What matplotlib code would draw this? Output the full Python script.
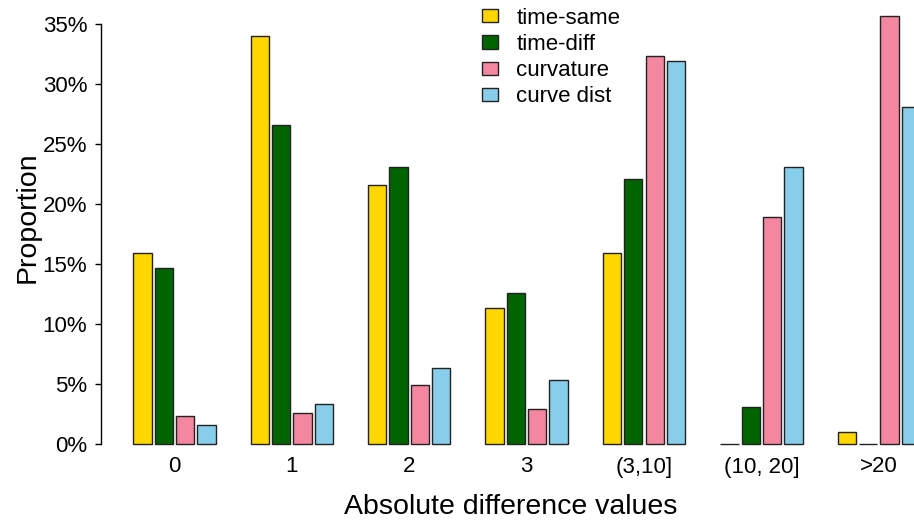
import matplotlib
matplotlib.use('Agg')
import matplotlib.pyplot as plt
import numpy as np

plt.rcParams['font.family'] = ['Liberation Sans', 'DejaVu Sans']

categories = ['0', '1', '2', '3', '(3,10]', '(10, 20]', '>20']
series = ['time-same', 'time-diff', 'curvature', 'curve dist']
time_same = [15.9, 34.0, 21.6, 11.3, 15.9, 0.0, 0.97]
time_diff = [14.7, 26.6, 23.1, 12.6, 22.1, 3.1, 0.0]
curvature = [2.3, 2.6, 4.9, 2.9, 32.3, 18.9, 35.7]
curve_dist = [1.6, 3.3, 6.3, 5.3, 31.9, 23.1, 28.1]
values = [time_same, time_diff, curvature, curve_dist]
colors = ['#FFD700', '#006400', '#F4879F', '#87CEEB']

W, H = 914, 524
fig = plt.figure(figsize=(W / 100, H / 100), dpi=100)
ax = fig.add_axes([101 / W, 1 - 444 / H, 1 - 101 / W, (444 - 24) / H])

bar_step = 1.165
group_step = 6.415
x0 = np.arange(len(categories)) * group_step
for i, (name, vals) in enumerate(zip(series, values)):
    ax.bar(x0 + i * bar_step, vals, width=1.0, align='edge', color=colors[i],
           edgecolor='#222222', linewidth=1.0, label=name, clip_on=False)

ax.set_xlim((101 - 133.3) / 18.3, (914 - 133.3) / 18.3)
ax.set_ylim(0, 35)
ax.set_yticks(np.arange(0, 36, 5))
ax.set_yticklabels([f'{v}%' for v in range(0, 36, 5)])
ax.set_xticks(x0 + (3 * bar_step + 1) / 2)
ax.set_xticklabels(categories)

for s in ['top', 'right', 'bottom']:
    ax.spines[s].set_visible(False)
ax.spines['left'].set_bounds(0, 35)
ax.spines['left'].set_linewidth(1.0)
ax.tick_params(axis='y', length=4.5, width=1.0, pad=5.5, labelsize=16)
ax.tick_params(axis='x', length=0, pad=9, labelsize=16)

fig.text(511 / W, 1 - 507 / H, 'Absolute difference values', ha='center',
         va='center', fontsize=20.5)
fig.text(28 / W, 1 - 217 / H, 'Proportion', ha='center', va='center',
         rotation=90, fontsize=20.5)

ax.legend(loc='upper left', bbox_to_anchor=(482 / W, 1 - 7.5 / H),
          bbox_transform=fig.transFigure, frameon=False, fontsize=16,
          handlelength=0.72, handleheight=0.56, handletextpad=0.82,
          labelspacing=0.24, borderpad=0, borderaxespad=0)

fig.savefig('out.png', dpi=100)
